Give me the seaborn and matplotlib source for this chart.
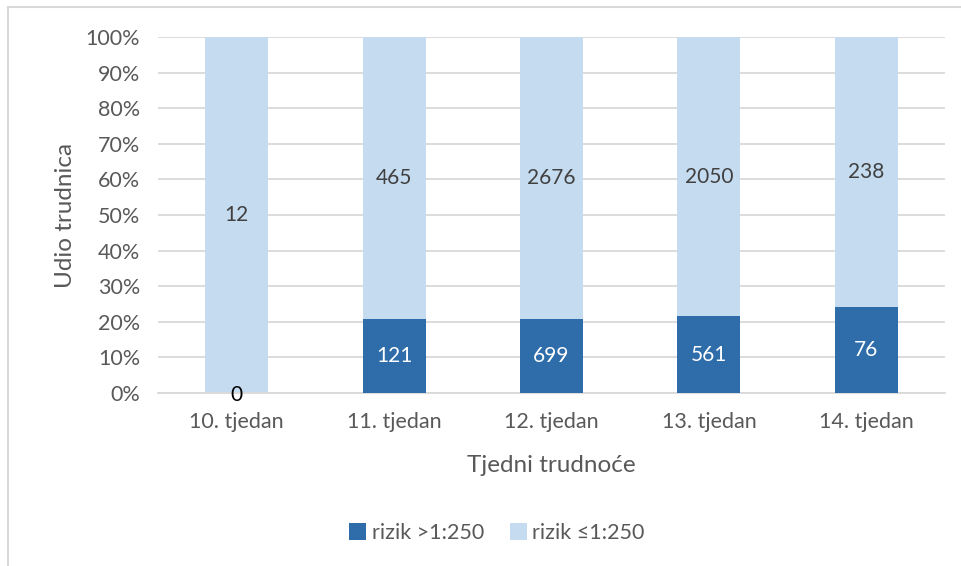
import numpy as np
import pandas as pd
import seaborn as sns
import matplotlib.pyplot as plt
from matplotlib.patches import Rectangle
from matplotlib.ticker import PercentFormatter

# data
weeks = ['10. tjedan', '11. tjedan', '12. tjedan', '13. tjedan', '14. tjedan']
high_risk = [0, 121, 699, 561, 76]      # rizik >1:250
low_risk = [12, 465, 2676, 2050, 238]   # rizik ≤1:250

dark_blue = '#2E6DAA'
light_blue = '#C5DBEF'
grey_text = '#595959'

sns.set_theme(style='white')
plt.rcParams['font.family'] = ['Lato', 'DejaVu Sans']

df = pd.DataFrame({'week': weeks, 'high': high_risk, 'low': low_risk})
df['total'] = df['high'] + df['low']
df['high_pct'] = df['high'] / df['total'] * 100
df['all_pct'] = 100.0

fig = plt.figure(figsize=(9.61, 5.66), dpi=100)
ax = fig.add_axes([0.1644, 0.3057, 0.819, 0.629])

# light bar spans whole column, dark bar drawn over the bottom part
sns.barplot(data=df, x='week', y='all_pct', color=light_blue, width=0.4,
            saturation=1, ax=ax, label='rizik ≤1:250', zorder=2, linewidth=0)
sns.barplot(data=df, x='week', y='high_pct', color=dark_blue, width=0.4,
            saturation=1, ax=ax, label='rizik >1:250', zorder=3, linewidth=0)

light_c, dark_c = ax.containers[0], ax.containers[1]

# labels for the light segment sit in the middle of the light part
for rect, hp, lv in zip(light_c, df['high_pct'], df['low']):
    xc = rect.get_x() + rect.get_width() / 2
    ax.text(xc, (hp + 100) / 2, str(lv), ha='center', va='center',
            fontsize=15, color='#404040', zorder=5)
for rect, hp, hv in zip(dark_c, df['high_pct'], df['high']):
    xc = rect.get_x() + rect.get_width() / 2
    if hv == 0:
        ax.text(xc, -0.5, '0', ha='center', va='center', fontsize=15,
                color='black', zorder=5)
    else:
        ax.text(xc, hp / 2, str(hv), ha='center', va='center',
                fontsize=15, color='white', zorder=5)

ax.set_ylim(0, 100)
ax.set_xlim(-0.5, 4.5)
ax.set_yticks(np.arange(0, 101, 10))
ax.yaxis.set_major_formatter(PercentFormatter(decimals=0))
ax.grid(axis='y', color='#D9D9D9', lw=1.3, zorder=0)
ax.set_axisbelow(True)
for s in ['top', 'right', 'left']:
    ax.spines[s].set_visible(False)
ax.spines['bottom'].set_color('#D9D9D9')
ax.spines['bottom'].set_linewidth(1.3)
ax.tick_params(axis='both', length=0, labelsize=15.5, colors=grey_text)
ax.tick_params(axis='x', pad=14)
ax.tick_params(axis='y', pad=13)
ax.set_xlabel('Tjedni trudnoće', fontsize=17.5, color=grey_text, labelpad=16)
ax.set_ylabel('Udio trudnica', fontsize=17.5, color=grey_text)
ax.yaxis.set_label_coords(-0.104, 0.5)

handles, labels = ax.get_legend_handles_labels()
order = [labels.index('rizik >1:250'), labels.index('rizik ≤1:250')]
fig.legend([handles[i] for i in order], [labels[i] for i in order],
           loc='center', bbox_to_anchor=(0.517, 0.058), ncol=2, frameon=False,
           fontsize=15.5, handlelength=0.8, handleheight=0.8, handletextpad=0.25,
           columnspacing=1.2, labelcolor=grey_text)
if ax.get_legend() is not None:
    ax.get_legend().remove()

# outer chart border (only top and left edges visible in the crop)
fig.patches.append(Rectangle((8 / 961, -0.1), 1.2, 1 - 7 / 566 + 0.1,
                             transform=fig.transFigure, fill=False,
                             edgecolor='#D9D9D9', lw=1.5))

fig.savefig('out.png', dpi=100)
